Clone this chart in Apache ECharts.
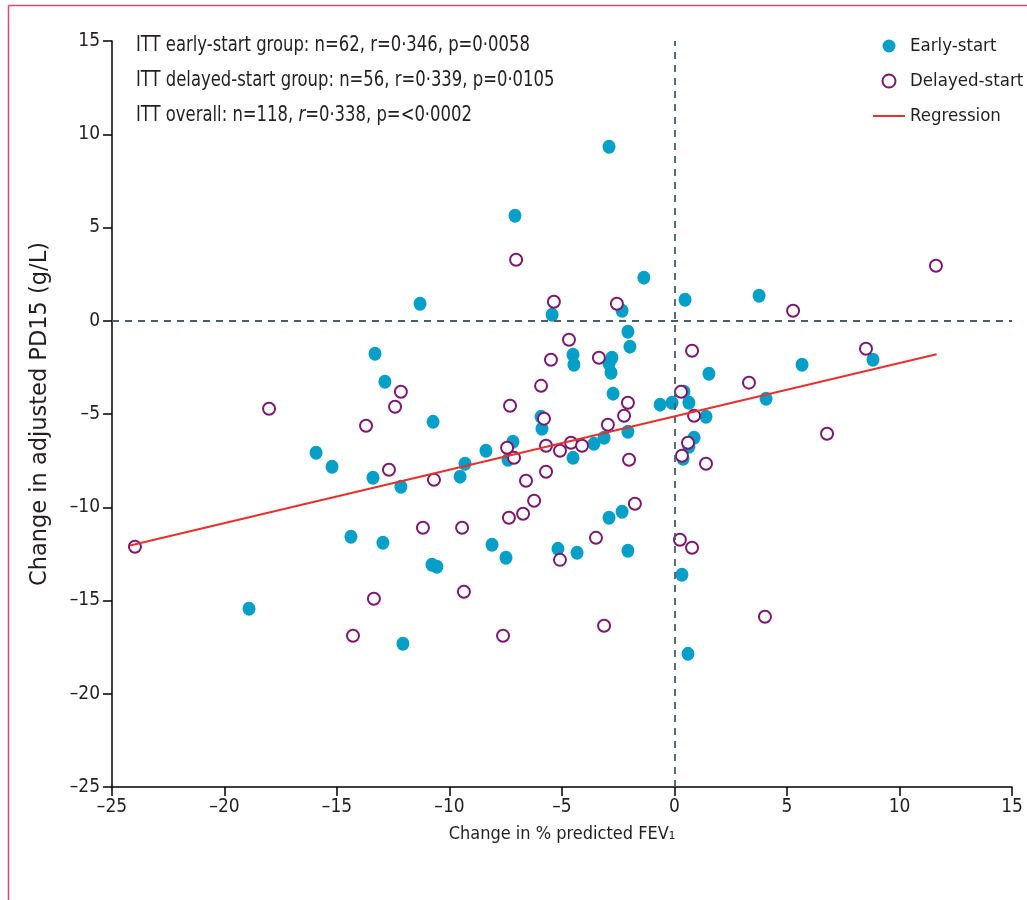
<!DOCTYPE html>
<html>
<head>
<meta charset="utf-8">
<script src="https://cdn.jsdelivr.net/npm/echarts@6/dist/echarts.min.js"></script>
<style>
  html, body { margin: 0; padding: 0; background: #fff; }
  #chart { width: 1027px; height: 900px; }
</style>
</head>
<body>
<div id="chart"></div>
<script>
// Change in % predicted FEV1 (x) vs change in adjusted PD15 (y), ITT population
const earlyStart = [
  [-2.91, 9.33], [-7.09, 5.63], [-1.36, 2.31], [0.47, 1.13], [3.76, 1.34],
  [-11.31, 0.91], [-5.44, 0.32], [-2.33, 0.54], [-2.07, -0.59], [-1.98, -1.39],
  [-13.31, -1.77], [-4.51, -1.82], [-4.47, -2.36], [-2.78, -1.98], [-2.91, -2.31],
  [-2.82, -2.79], [-12.87, -3.27], [5.67, -2.36], [1.53, -2.84], [8.82, -2.09],
  [-2.73, -3.91], [4.07, -4.18], [-0.64, -4.50], [-0.11, -4.40], [0.42, -3.81],
  [0.64, -4.40], [1.40, -5.15], [0.87, -6.27], [0.64, -6.76], [0.38, -7.40],
  [-10.73, -5.42], [-5.93, -5.15], [-5.89, -5.79], [-2.07, -5.95], [-3.13, -6.27],
  [-3.58, -6.60], [-4.51, -7.35], [-7.18, -6.49], [-7.40, -7.45], [-8.38, -6.97],
  [-9.31, -7.67], [-9.53, -8.36], [-12.16, -8.90], [-13.40, -8.42], [-15.22, -7.83],
  [-15.93, -7.08], [-2.91, -10.56], [-2.33, -10.24], [-12.96, -11.90], [-14.38, -11.58],
  [-10.78, -13.08], [-10.56, -13.19], [-8.11, -12.01], [-7.49, -12.71], [-5.18, -12.23],
  [-4.33, -12.44], [-2.07, -12.33], [0.33, -13.62], [0.60, -17.86], [-12.07, -17.32],
  [-18.91, -15.44]
];

const delayedStart = [
  [11.62, 2.95], [-7.04, 3.27], [-5.36, 1.02], [-2.56, 0.91], [5.27, 0.54],
  [-4.69, -1.02], [-5.49, -2.09], [-3.36, -1.98], [0.78, -1.61], [8.51, -1.50],
  [3.31, -3.32], [-5.93, -3.49], [0.29, -3.81], [-12.16, -3.81], [-18.02, -4.72],
  [-12.42, -4.61], [-13.71, -5.63], [-7.31, -4.56], [-2.07, -4.40], [-2.24, -5.09],
  [-5.80, -5.25], [-2.96, -5.58], [0.87, -5.09], [6.78, -6.06], [-7.44, -6.81],
  [-7.13, -7.35], [-5.71, -6.70], [-5.09, -6.97], [-4.60, -6.54], [-4.11, -6.70],
  [0.60, -6.54], [0.33, -7.24], [1.40, -7.67], [-2.02, -7.45], [-12.69, -7.99],
  [-10.69, -8.53], [-5.71, -8.10], [-6.60, -8.58], [-6.24, -9.65], [-6.73, -10.35],
  [-7.36, -10.56], [-1.76, -9.81], [-11.18, -11.10], [-9.44, -11.10], [-3.49, -11.64],
  [-5.09, -12.82], [-23.98, -12.12], [0.24, -11.74], [0.78, -12.17], [-9.36, -14.53],
  [-13.36, -14.91], [-14.29, -16.89], [-7.62, -16.89], [-3.13, -16.35], [4.02, -15.87]
];

// Fitted regression line end points
const regression = [[-24.2, -12.05], [11.65, -1.80]];

const statsLines = [
  'ITT early-start group: n=62, r=0·346, p=0·0058',
  'ITT delayed-start group: n=56, r=0·339, p=0·0105',
  'ITT overall: n=118, {i|r}=0·338, p=<0·0002'
];

const xName = 'Change in % predicted FEV₁';
const yName = 'Change in adjusted PD15 (g/L)';

const COND = '"Liberation Sans Narrow", "DejaVu Sans Condensed", sans-serif';
const TXT = '#231f20';
const CYAN = '#059fc7';
const PURPLE = '#7b1870';
const RED = '#e8312c';
const DASH = '#4b5d68';

const minusFmt = v => String(v).replace('-', '–');

const chart = echarts.init(document.getElementById('chart'));
chart.setOption({
  backgroundColor: '#fff',
  animation: false,
  grid: { left: 112, top: 41, width: 900, height: 746, containLabel: false },
  legend: {
    orient: 'vertical',
    left: 868,
    top: 31,
    itemWidth: 32,
    itemHeight: 13,
    itemGap: 15,
    textStyle: { fontFamily: COND, fontSize: 18.5, lineHeight: 20, color: TXT },
    data: [
      { name: 'Early-start', icon: 'circle', itemStyle: { color: CYAN, opacity: 1 } },
      { name: 'Delayed-start', icon: 'circle', itemStyle: { color: '#fff', borderColor: PURPLE, borderWidth: 2, opacity: 1 } },
      { name: 'Regression', icon: 'path://M0,0 L32,0 L32,2 L0,2 Z', itemStyle: { color: RED } }
    ]
  },
  xAxis: {
    type: 'value',
    min: -25, max: 15, interval: 5,
    splitLine: { show: false },
    axisLine: { onZero: false, lineStyle: { color: '#000', width: 1.5 } },
    axisTick: { show: true, length: 9, lineStyle: { color: '#000', width: 1.5 } },
    axisLabel: { formatter: minusFmt, fontFamily: COND, fontSize: 19, color: TXT, margin: 11 },
    name: xName,
    nameLocation: 'middle',
    nameGap: 38,
    nameTextStyle: { fontFamily: COND, fontSize: 18, color: TXT }
  },
  yAxis: {
    type: 'value',
    min: -25, max: 15, interval: 5,
    splitLine: { show: false },
    axisLine: { onZero: false, lineStyle: { color: '#000', width: 1.5 } },
    axisTick: { show: true, length: 9, lineStyle: { color: '#000', width: 1.5 } },
    axisLabel: { formatter: minusFmt, fontFamily: COND, fontSize: 19, color: TXT, margin: 12 },
    name: yName,
    nameLocation: 'middle',
    nameGap: 60,
    nameTextStyle: { fontFamily: '"DejaVu Sans", sans-serif', fontSize: 22.5, color: TXT }
  },
  series: [
    {
      name: 'Early-start',
      type: 'scatter',
      data: earlyStart,
      symbol: 'circle',
      symbolSize: [13, 14],
      itemStyle: { color: CYAN, opacity: 1 },
      z: 3,
      markLine: {
        silent: true,
        symbol: 'none',
        label: { show: false },
        lineStyle: { color: DASH, type: [7, 6], width: 1.8 },
        data: [{ yAxis: 0 }, { xAxis: 0 }]
      }
    },
    {
      name: 'Delayed-start',
      type: 'scatter',
      data: delayedStart,
      symbol: 'circle',
      symbolSize: 12,
      itemStyle: { color: '#fff', borderColor: PURPLE, borderWidth: 2, opacity: 1 },
      z: 4
    },
    {
      name: 'Regression',
      type: 'line',
      data: regression,
      symbol: 'none',
      lineStyle: { color: RED, width: 2 },
      itemStyle: { color: RED },
      z: 5
    }
  ],
  graphic: [
    // page frame
    { type: 'line', shape: { x1: 8.5, y1: 5.5, x2: 1027, y2: 5.5 }, style: { stroke: '#d8497a', lineWidth: 1.5 } },
    { type: 'line', shape: { x1: 8.5, y1: 5.5, x2: 8.5, y2: 900 }, style: { stroke: '#d8497a', lineWidth: 1.5 } },
    ...statsLines.map((t, i) => ({
      type: 'text',
      x: 136,
      y: 35 + i * 35,
      scaleX: 0.87,
      style: {
        text: t,
        font: '21px ' + COND,
        fill: TXT,
        rich: { i: { fontStyle: 'italic', fontFamily: COND, fontSize: 21, fill: TXT } }
      }
    }))
  ]
});
</script>
</body>
</html>
